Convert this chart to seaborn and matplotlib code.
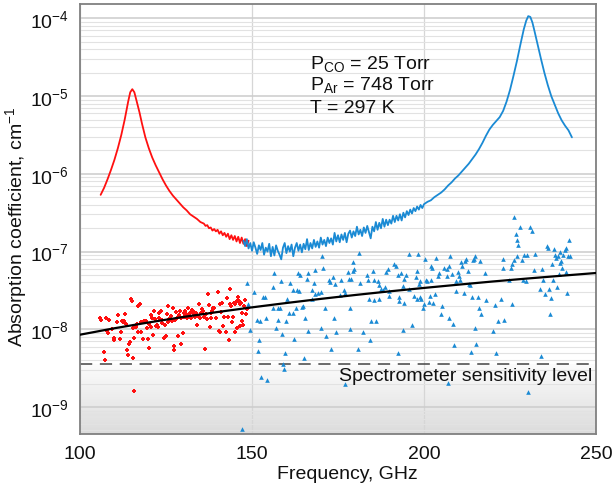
import numpy as np
import matplotlib
matplotlib.use('Agg')
import matplotlib.pyplot as plt
import seaborn as sns

# ---------------- data ----------------
# red spectrum (frequency GHz, log10 absorption coefficient cm^-1)
red_freq = [106.0, 107.0, 108.0, 109.0, 110.0, 111.0, 112.0, 113.0, 114.0, 114.6, 115.2, 115.8,
            116.5, 117.3, 118.0, 119.0, 120.0, 121.0, 122.0, 123.0, 124.0, 125.0, 126.0, 127.0,
            128.0, 129.0, 130.0, 131.0, 132.0, 133.0, 134.0, 135.0, 136.0, 136.5, 137.0, 137.5,
            138.0, 138.5, 139.0, 139.5, 140.0, 140.5, 141.0, 141.5, 142.0, 142.5, 143.0, 143.5,
            144.0, 144.5, 145.0, 145.5, 146.0, 146.5, 147.0, 147.5, 148.0, 148.5, 149.0]
red_log = [-6.27, -6.18, -6.07, -5.95, -5.82, -5.67, -5.50, -5.30, -5.07, -4.95, -4.91, -4.95,
           -5.07, -5.21, -5.35, -5.53, -5.67, -5.79, -5.89, -5.98, -6.07, -6.15, -6.22, -6.28,
           -6.33, -6.38, -6.43, -6.47, -6.52, -6.55, -6.58, -6.62, -6.64, -6.67, -6.66, -6.70,
           -6.69, -6.73, -6.71, -6.74, -6.72, -6.77, -6.74, -6.79, -6.76, -6.81, -6.77, -6.84,
           -6.79, -6.85, -6.80, -6.87, -6.81, -6.89, -6.82, -6.90, -6.84, -6.93, -6.86]

# blue spectrum
blue_freq = [147.5, 148.0, 148.5, 149.0, 149.5, 150.0, 150.5, 151.0, 151.5, 152.0, 152.5, 153.0,
             153.5, 154.0, 154.5, 155.0, 155.5, 156.0, 156.5, 157.0, 157.5, 158.0, 158.5, 159.0,
             159.5, 160.0, 160.5, 161.0, 161.5, 162.0, 162.5, 163.0, 163.5, 164.0, 164.5, 165.0,
             165.5, 166.0, 166.5, 167.0, 167.5, 168.0, 168.5, 169.0, 169.5, 170.0, 170.5, 171.0,
             171.5, 172.0, 172.5, 173.0, 173.5, 174.0, 174.5, 175.0, 175.5, 176.0, 176.5, 177.0,
             177.5, 178.0, 178.5, 179.0, 179.5, 180.0, 180.5, 181.0, 181.5, 182.0, 182.5, 183.0,
             183.5, 184.0, 184.5, 185.0, 185.5, 186.0, 186.5, 187.0, 187.5, 188.0, 188.5, 189.0,
             189.5, 190.0, 190.5, 191.0, 191.5, 192.0, 192.5, 193.0, 193.5, 194.0, 194.5, 195.0,
             195.5, 196.0, 196.5, 197.0, 197.5, 198.0, 198.5, 199.0, 199.5, 200.0, 201.0, 202.0,
             203.0, 204.0, 205.0, 206.0, 207.0, 208.0, 209.0, 210.0, 211.0, 212.0, 213.0, 214.0,
             215.0, 216.0, 217.0, 218.0, 219.0, 220.0, 221.0, 222.0, 223.0, 224.0, 225.0, 226.0,
             227.0, 228.0, 229.0, 229.7, 230.3, 230.9, 231.5, 232.0, 233.0, 234.0, 235.0, 236.0,
             237.0, 238.0, 239.0, 240.0, 241.0, 242.0, 243.0]
blue_log = [-6.86, -6.93, -6.84, -6.96, -6.89, -6.99, -6.88, -6.95, -7.03, -6.92, -6.98, -6.89,
            -7.04, -6.95, -7.00, -6.90, -7.06, -6.94, -7.05, -6.92, -6.99, -7.04, -7.10, -6.95,
            -6.89, -7.02, -6.93, -7.00, -6.91, -7.06, -6.95, -6.89, -6.99, -6.91, -7.01, -6.90,
            -6.97, -6.84, -6.98, -6.89, -6.96, -6.85, -6.94, -6.87, -6.95, -6.82, -6.91, -6.85,
            -6.93, -6.82, -6.89, -6.83, -6.91, -6.76, -6.87, -6.79, -6.88, -6.78, -6.85, -6.76,
            -6.88, -6.77, -6.73, -6.82, -6.74, -6.80, -6.68, -6.78, -6.72, -6.80, -6.69, -6.76,
            -6.67, -6.75, -6.83, -6.68, -6.74, -6.62, -6.72, -6.63, -6.70, -6.58, -6.68, -6.59,
            -6.66, -6.59, -6.64, -6.54, -6.62, -6.54, -6.60, -6.52, -6.60, -6.50, -6.56, -6.48,
            -6.53, -6.46, -6.51, -6.44, -6.48, -6.42, -6.46, -6.40, -6.44, -6.39, -6.36, -6.34,
            -6.30, -6.27, -6.24, -6.20, -6.15, -6.11, -6.06, -6.02, -5.97, -5.92, -5.87, -5.81,
            -5.75, -5.68, -5.60, -5.51, -5.43, -5.37, -5.32, -5.27, -5.19, -5.07, -4.92, -4.74,
            -4.55, -4.34, -4.14, -4.03, -3.97, -3.98, -4.05, -4.14, -4.33, -4.52, -4.70, -4.86,
            -5.00, -5.11, -5.22, -5.31, -5.38, -5.44, -5.53]

# red scatter points
red_pts_freq = [105.9, 106.2, 107.5, 108.3, 106.9, 107.2, 107.8, 108.0, 109.3, 110.0, 109.8, 111.0,
                110.8, 111.5, 111.8, 112.2, 112.5, 113.0, 112.8, 113.5, 113.6, 113.9, 114.2, 114.5,
                114.9, 115.1, 115.4, 115.4, 115.8, 116.3, 116.6, 116.8, 117.0, 117.4, 117.6, 117.8,
                118.2, 118.7, 119.2, 119.4, 119.7, 120.0, 120.2, 120.5, 120.6, 120.8, 121.1, 121.6,
                121.8, 122.1, 122.4, 122.6, 122.9, 123.1, 123.5, 123.7, 123.9, 124.5, 124.7, 124.9,
                125.3, 125.5, 125.6, 126.0, 126.4, 126.7, 126.9, 127.2, 127.4, 127.7, 127.9, 128.1,
                128.5, 128.9, 129.1, 129.3, 129.5, 129.8, 130.1, 130.3, 130.6, 130.8, 131.2, 131.5,
                131.7, 132.0, 132.4, 132.7, 133.0, 133.1, 133.3, 133.6, 134.1, 134.3, 134.7, 134.9,
                135.3, 135.6, 135.8, 136.0, 136.2, 136.6, 137.0, 137.2, 137.5, 137.8, 138.0, 138.1,
                138.4, 138.7, 138.9, 139.4, 140.1, 140.4, 140.6, 140.8, 141.1, 141.3, 141.6, 142.0,
                142.4, 142.8, 143.1, 143.2, 143.5, 143.7, 143.9, 144.2, 144.5, 144.7, 145.0, 145.2,
                145.5, 145.6, 145.9, 146.1, 146.4, 146.6, 146.8, 147.1, 147.2, 147.4, 147.6, 148.1,
                148.3, 148.5, 148.7, 115.6]
red_pts_log = [-7.85, -7.88, -7.86, -7.88, -8.29, -8.40, -8.02, -8.05, -8.00, -8.11, -8.14, -7.82,
               -7.91, -8.13, -8.03, -7.89, -7.91, -7.81, -7.89, -7.93, -8.27, -8.33, -8.19, -8.17,
               -7.61, -7.64, -8.37, -7.99, -8.11, -7.97, -7.93, -8.03, -7.70, -7.67, -7.91, -8.04,
               -8.13, -7.90, -7.89, -7.99, -8.13, -8.24, -7.93, -7.82, -7.97, -7.86, -8.08, -7.76,
               -7.87, -7.96, -7.95, -7.97, -7.79, -7.85, -7.76, -7.92, -7.88, -8.11, -7.95, -8.09,
               -7.80, -7.70, -7.91, -7.87, -7.83, -7.89, -7.72, -8.27, -8.21, -7.88, -7.78, -7.85,
               -8.09, -7.82, -7.76, -7.85, -8.19, -8.05, -7.84, -7.79, -7.77, -7.80, -7.85, -7.72,
               -7.82, -7.79, -7.85, -7.75, -7.78, -7.81, -7.84, -7.79, -7.95, -7.83, -7.67, -7.85,
               -7.79, -7.74, -7.76, -7.84, -8.26, -7.81, -7.87, -7.55, -7.69, -7.97, -7.86, -7.79,
               -7.76, -7.73, -7.72, -7.85, -7.52, -8.02, -8.04, -7.68, -7.78, -7.66, -7.96, -7.84,
               -8.03, -7.60, -7.84, -8.14, -7.67, -7.48, -7.70, -7.91, -7.84, -7.66, -8.03, -7.68,
               -7.64, -7.98, -7.59, -7.64, -7.68, -7.96, -7.66, -7.89, -7.79, -7.94, -7.70, -7.62,
               -7.80, -7.74, -7.72, -8.80]

# blue scatter points
blue_pts_freq = [170.4, 179.3, 195.7, 198.3, 181.1, 156.5, 163.5, 163.9, 166.2, 168.3, 170.7, 165.9,
                 168.1, 167.3, 170.0, 172.4, 172.8, 173.6, 174.0, 176.0, 176.7, 176.9, 177.9, 178.2,
                 178.9, 179.3, 179.6, 181.3, 183.4, 183.7, 185.1, 185.6, 186.5, 187.0, 187.5, 188.0,
                 188.7, 188.9, 189.4, 189.9, 191.4, 191.8, 192.3, 193.3, 193.8, 194.2, 194.9, 195.7,
                 197.6, 198.1, 198.6, 199.0, 156.1, 158.4, 161.1, 161.8, 163.0, 163.8, 160.1, 158.2,
                 156.1, 153.9, 153.2, 150.5, 148.4, 148.8, 149.3, 167.3, 168.3, 169.2, 171.2, 175.5,
                 178.4, 183.9, 185.4, 187.0, 189.9, 192.6, 192.8, 194.2, 197.1, 198.1, 164.4, 164.9,
                 162.8, 161.8, 160.8, 157.7, 151.4, 152.2, 154.1, 157.5, 159.8, 165.4, 173.8, 184.6,
                 186.1, 156.9, 158.7, 166.4, 170.2, 174.5, 178.6, 182.2, 184.4, 194.0, 196.6, 151.9,
                 151.7, 162.2, 171.6, 159.6, 165.2, 173.1, 180.8, 192.3, 159.1, 159.3, 152.6, 154.5,
                 177.1, 147.0,
                 226.3, 227.9, 230.8, 231.3, 226.7, 226.9, 227.4, 242.1, 235.8, 236.1, 237.8, 238.0,
                 238.5, 239.0, 239.4, 240.4, 240.9, 241.2, 241.9, 242.3, 239.9, 239.6, 237.3, 240.1,
                 241.4, 239.2, 237.5, 234.6, 234.2, 231.9, 232.3, 229.1, 229.8, 228.5, 227.1, 226.2,
                 225.5, 225.3, 222.9, 223.1, 224.7, 228.9, 229.6, 233.7, 235.1, 236.4, 237.0, 238.7,
                 241.6, 236.6, 225.7, 222.4, 220.7, 223.3, 221.4, 220.2, 215.2, 214.9, 213.8, 221.0,
                 234.0, 208.7, 208.4, 207.2, 204.8, 205.3, 199.7, 200.0, 201.5, 202.7, 201.7, 203.2,
                 198.9, 198.9, 200.5, 201.0, 201.9, 203.6, 204.1, 204.3, 205.8, 206.6, 207.4, 207.7,
                 206.8, 208.2, 209.4, 209.2, 209.8, 210.1, 210.4, 210.8, 211.1, 211.6, 212.0, 212.3,
                 212.7, 213.0, 213.5, 214.0, 214.4, 214.3, 214.9, 215.6, 215.9, 216.4, 216.6, 217.8,
                 218.1, 200.2, 202.4, 202.1, 206.9, 230.1]
blue_pts_log = [-7.06, -7.13, -7.03, -7.03, -7.02, -7.27, -7.28, -7.30, -7.28, -7.24, -7.21, -7.35,
                -7.40, -7.49, -7.52, -7.36, -7.39, -7.33, -7.42, -7.36, -7.49, -7.53, -7.26, -7.35,
                -7.35, -7.25, -7.23, -7.40, -7.30, -7.36, -7.25, -7.36, -7.38, -7.43, -7.48, -7.49,
                -7.45, -7.26, -7.23, -7.51, -7.16, -7.19, -7.30, -7.27, -7.44, -7.35, -7.30, -7.48,
                -7.33, -7.25, -7.42, -7.61, -7.46, -7.38, -7.41, -7.49, -7.50, -7.51, -7.61, -7.73,
                -7.73, -7.59, -7.58, -7.52, -7.40, -7.68, -8.01, -7.61, -7.55, -7.53, -7.72, -7.56,
                -7.73, -7.61, -7.62, -7.61, -7.57, -7.59, -7.64, -7.66, -7.57, -7.61, -7.71, -7.70,
                -7.72, -7.79, -7.79, -7.73, -7.88, -7.89, -7.86, -7.88, -7.90, -7.86, -7.86, -7.90,
                -7.90, -7.98, -8.06, -8.02, -7.99, -8.03, -8.00, -8.03, -8.14, -8.01, -7.94, -8.14,
                -8.28, -8.12, -8.09, -8.30, -8.37, -8.25, -8.25, -8.30, -8.45, -8.51, -8.62, -8.65,
                -8.70, -9.29,
                -6.55, -6.68, -6.69, -6.73, -6.77, -6.85, -6.92, -6.85, -6.93, -6.95, -6.97, -7.04,
                -7.08, -7.06, -7.01, -7.04, -6.98, -6.96, -7.06, -7.06, -7.12, -7.15, -7.16, -7.21,
                -7.26, -7.29, -7.36, -7.36, -7.23, -7.24, -7.03, -7.05, -7.05, -7.11, -7.06, -7.11,
                -7.16, -7.21, -7.21, -7.10, -7.37, -7.37, -7.38, -7.48, -7.55, -7.48, -7.60, -7.45,
                -7.53, -7.81, -7.68, -7.61, -7.69, -7.88, -7.89, -8.02, -8.19, -7.98, -8.29, -8.31,
                -8.34, -8.20, -7.93, -7.86, -7.81, -7.70, -7.72, -7.67, -7.65, -7.66, -7.57, -7.55,
                -7.58, -7.38, -7.36, -7.38, -7.37, -7.08, -7.31, -7.27, -7.21, -7.23, -7.19, -7.06,
                -7.31, -7.29, -7.38, -7.51, -7.26, -7.31, -7.36, -7.13, -7.19, -7.53, -7.12, -7.09,
                -7.25, -7.42, -7.43, -7.58, -7.09, -7.11, -7.06, -7.59, -7.72, -7.12, -7.80, -7.27,
                -7.62, -7.09, -7.21, -7.18, -8.69, -8.81]

# black trend line
trend_freq = [100, 110, 120, 130, 140, 150, 160, 170, 180, 190, 200, 210, 220, 230, 240, 250]
trend_log = [-8.07, -7.987, -7.912, -7.842, -7.778, -7.718, -7.662, -7.609, -7.559, -7.512,
             -7.468, -7.426, -7.385, -7.347, -7.311, -7.276]

sensitivity_level = 3.6e-9
y_limits = (4.46e-10, 1.54e-4)
x_limits = (100, 250)
x_ticks = [100, 150, 200, 250]
annotation_lines = [r'P$_{\rm CO}$ = 25 Torr', r'P$_{\rm Ar}$ = 748 Torr', 'T = 297 K']
annotation_y = [2.65e-5, 1.45e-5, 7.1e-6]

# ---------------- style ----------------
sns.set_theme(style='white')
plt.rcParams['font.family'] = ['Liberation Sans', 'DejaVu Sans']
plt.rcParams['mathtext.fontset'] = 'custom'
plt.rcParams['mathtext.rm'] = 'Liberation Sans'
plt.rcParams['mathtext.it'] = 'Liberation Sans:italic'
plt.rcParams['mathtext.bf'] = 'Liberation Sans:bold'

FS = 14
RED = '#ff1010'
BLUE = '#1a8ad4'

fig = plt.figure(figsize=(6.14, 4.89), dpi=100)
ax = fig.add_axes([0.1303, 0.110, 0.8404, 0.880])
ax.set_yscale('log')

# gradient shading below sensitivity level
lo, hi = np.log10(y_limits[0]), np.log10(sensitivity_level)
nb = 60
edges = np.logspace(lo, hi, nb + 1)
for i in range(nb):
    t = i / (nb - 1)  # 0 at bottom -> 1 at top
    g = 0.86 + (0.985 - 0.86) * t
    ax.fill_between(x_limits, edges[i], edges[i + 1], color=(g, g, g), lw=0, zorder=0)

# grid
ax.grid(True, which='major', axis='y', color='#cccccc', lw=1.1, zorder=0.5)
ax.grid(True, which='minor', axis='y', color='#e2e2e2', lw=0.8, zorder=0.5)
ax.grid(True, which='major', axis='x', color='#d6d6d6', lw=0.9, zorder=0.5)
ax.set_axisbelow(True)

ax.axhline(sensitivity_level, color='#444444', lw=1.1, ls=(0, (8, 5)), zorder=1)

sns.scatterplot(x=red_pts_freq, y=10 ** np.array(red_pts_log), marker='P', color=RED,
                s=9, linewidth=0, ax=ax, zorder=3)
sns.scatterplot(x=blue_pts_freq, y=10 ** np.array(blue_pts_log), marker='^', color=BLUE,
                s=11, linewidth=0, ax=ax, zorder=3)

sns.lineplot(x=red_freq, y=10 ** np.array(red_log), color=RED, lw=1.3, ax=ax,
             sort=False, estimator=None, zorder=4)
sns.lineplot(x=blue_freq, y=10 ** np.array(blue_log), color=BLUE, lw=1.3, ax=ax,
             sort=False, estimator=None, zorder=4)
sns.lineplot(x=trend_freq, y=10 ** np.array(trend_log), color='black', lw=1.6, ax=ax,
             sort=False, estimator=None, zorder=5)

ax.set_xlim(*x_limits)
ax.set_ylim(*y_limits)
ax.set_xticks(x_ticks)
ax.yaxis.set_major_locator(matplotlib.ticker.LogLocator(base=10, numticks=20))
ax.yaxis.set_minor_locator(matplotlib.ticker.LogLocator(base=10, subs=np.arange(2, 10), numticks=20))
ax.yaxis.set_minor_formatter(matplotlib.ticker.NullFormatter())

ax.tick_params(axis='both', which='both', length=0, labelsize=FS, colors='#111111')
ax.tick_params(axis='x', pad=8)
ax.tick_params(axis='y', pad=8)

for sp in ax.spines.values():
    sp.set_color('#808080')
    sp.set_linewidth(1.3)

ax.set_xlabel('Frequency, GHz', fontsize=FS, color='#111111')
ax.xaxis.set_label_coords(0.519, -0.072)
ax.xaxis.label.set_va('top')
ax.set_ylabel(r'Absorption coefficient, cm$^{-1}$', fontsize=FS, color='#111111')
ax.yaxis.set_label_coords(-0.098, 0.484)

for txt, yy in zip(annotation_lines, annotation_y):
    ax.text(166.9, yy, txt, fontsize=FS, color='#111111', va='center', ha='left', zorder=6)

ax.text(175.3, 2.55e-9, 'Spectrometer sensitivity level', fontsize=FS, color='#111111',
        va='center', ha='left', zorder=6)

fig.savefig('out.png', dpi=100)
